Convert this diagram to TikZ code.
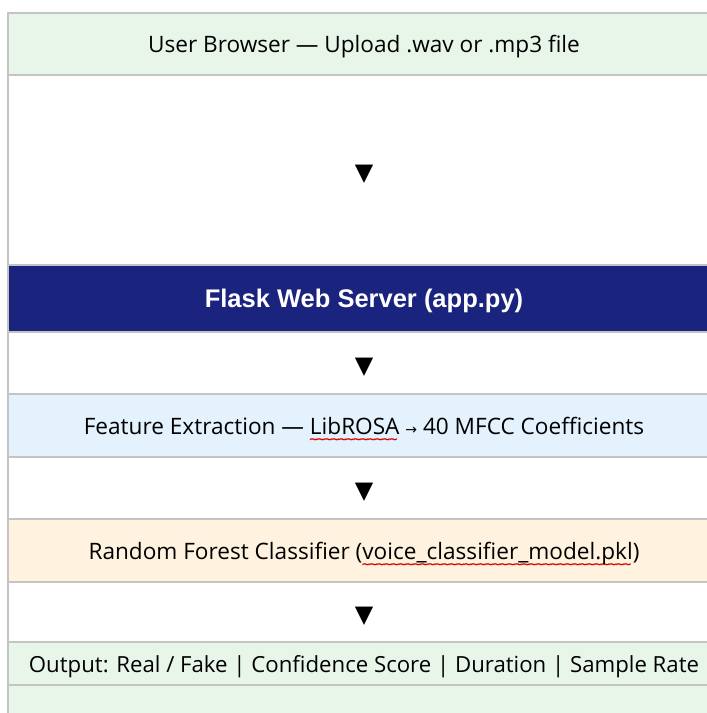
\documentclass[tikz,border=0pt]{standalone}
\usepackage{fontspec}
\usepackage{xcolor}
\setmainfont{Open Sans}
\newfontfamily\headfont{Liberation Sans}
\newfontfamily\symfont{DejaVu Sans}
\usetikzlibrary{positioning}

\definecolor{browsergreen}{HTML}{E8F5E9}
\definecolor{servernavy}{HTML}{1A237E}
\definecolor{featureblue}{HTML}{E3F2FD}
\definecolor{modelorange}{HTML}{FFF3E0}
\definecolor{rulegray}{HTML}{C4C4C4}

% red spell-check wave under a word
\newsavebox\wordbox
\newcommand\spellwave[1]{%
    \sbox\wordbox{#1}%
    \rlap{\raisebox{-9.5pt}[0pt][0pt]{\hbox to\wd\wordbox{%
        \color{red!85!black}\symfont\bfseries\fontsize{12}{12}\selectfont
        \leaders\hbox{\kern-1.4pt\char"7E\kern-1.4pt}\hfill}}}%
    \usebox\wordbox}

\begin{document}
\begin{tikzpicture}[
    x=1pt, y=1pt,
    row/.style={
        draw=rulegray,
        line width=1.2pt,
        minimum width=712pt,
        inner sep=0pt,
        outer sep=0pt,
        text depth=0pt,
        font=\fontsize{22.6}{26}\selectfont
    },
    gap/.style={
        row,
        fill=white,
        text height=20pt,
        font=\symfont\fontsize{24}{28}\selectfont
    }
]

\useasboundingbox (0,0) rectangle (707,-713);
\clip (0,0) rectangle (707,-713);

%-------------------------------------------------
% Upload
%-------------------------------------------------

\node[row,fill=browsergreen,minimum height=62pt,anchor=north west] (browser) at (8,-13)
{User Browser — Upload .wav or .mp3 file};

\node[gap,minimum height=190pt,below=0pt of browser] (gap1) {▼};

%-------------------------------------------------
% Server
%-------------------------------------------------

\node[row,fill=servernavy,text=white,minimum height=67pt,below=0pt of gap1,
      font=\headfont\bfseries\fontsize{25.5}{30}\selectfont] (server)
{Flask Web Server (app.py)};

\node[gap,minimum height=62pt,below=0pt of server] (gap2) {▼};

%-------------------------------------------------
% Features
%-------------------------------------------------

\node[row,fill=featureblue,minimum height=63pt,below=0pt of gap2] (features)
{Feature Extraction — \spellwave{LibROSA} {\symfont\fontsize{14}{16}\selectfont →} 40 MFCC Coefficients};

\node[gap,minimum height=62pt,below=0pt of features] (gap3) {▼};

%-------------------------------------------------
% Classifier
%-------------------------------------------------

\node[row,fill=modelorange,minimum height=63pt,below=0pt of gap3] (model)
{Random Forest Classifier (\spellwave{voice\_classifier\_model.pkl})};

\node[gap,minimum height=60pt,below=0pt of model] (gap4) {▼};

%-------------------------------------------------
% Result
%-------------------------------------------------

\node[row,fill=browsergreen,minimum height=43pt,below=0pt of gap4,
      font=\fontsize{22.2}{26}\selectfont] (output)
{Output: Real / Fake | Confidence Score | Duration | Sample Rate};

\node[row,fill=browsergreen,minimum height=40pt,below=0pt of output] (foot) {};

\end{tikzpicture}
\end{document}
